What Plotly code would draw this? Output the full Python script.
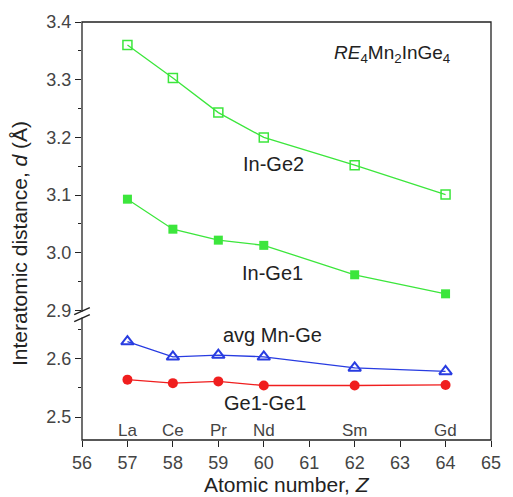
import plotly.graph_objects as go

z = [57, 58, 59, 60, 62, 64]
elements = ["La", "Ce", "Pr", "Nd", "Sm", "Gd"]
in_ge2 = [3.360, 3.303, 3.243, 3.200, 3.152, 3.101]
in_ge1 = [3.093, 3.041, 3.022, 3.013, 2.962, 2.929]
avg_mn_ge = [2.629, 2.603, 2.606, 2.603, 2.584, 2.578]
ge1_ge1 = [2.564, 2.558, 2.561, 2.554, 2.554, 2.555]

green = "rgb(60,230,60)"
blue = "rgb(40,60,225)"
red = "rgb(240,30,30)"
font = "Liberation Sans, Arial, sans-serif"

fig = go.Figure()
fig.add_trace(go.Scatter(x=z, y=in_ge2, yaxis="y2", mode="lines+markers",
                         line=dict(color=green, width=1.3),
                         marker=dict(symbol="square-open", size=9, color=green, line=dict(width=1.5)),
                         cliponaxis=False))
fig.add_trace(go.Scatter(x=z, y=in_ge1, yaxis="y2", mode="lines+markers",
                         line=dict(color=green, width=1.3),
                         marker=dict(symbol="square", size=9, color=green),
                         cliponaxis=False))
fig.add_trace(go.Scatter(x=z, y=avg_mn_ge, yaxis="y", mode="lines+markers",
                         line=dict(color=blue, width=1.3),
                         marker=dict(symbol="triangle-up-open", size=11, color=blue, line=dict(width=2)),
                         cliponaxis=False))
fig.add_trace(go.Scatter(x=z, y=ge1_ge1, yaxis="y", mode="lines+markers",
                         line=dict(color=red, width=1.3),
                         marker=dict(symbol="circle", size=10, color=red),
                         cliponaxis=False))

tickfont = dict(family=font, size=18, color="#444")
low_frac = 0.30

annotations = []
for zz, el in zip(z, elements):
    annotations.append(dict(x=zz, y=0.022, xref="x", yref="paper", text=el, showarrow=False,
                            font=dict(family=font, size=17, color="#444"),
                            xanchor="center", yanchor="middle"))
labels = [
    (278, 163, "In-Ge2"),
    (277, 273, "In-Ge1"),
    (277, 335, "avg Mn-Ge"),
    (269, 403, "Ge1-Ge1"),
]
for px_, py_, t in labels:
    annotations.append(dict(x=(px_ - 82) / 419, y=(440 - py_) / 419, xref="paper", yref="paper",
                            text=t, showarrow=False, xanchor="center", yanchor="middle",
                            font=dict(family=font, size=20, color="#222")))
annotations.append(dict(x=(400 - 82) / 419, y=(440 - 53) / 419, xref="paper", yref="paper",
                        text="<i>RE</i><sub>4</sub>Mn<sub>2</sub>InGe<sub>4</sub>", showarrow=False,
                        xanchor="center", yanchor="middle",
                        font=dict(family=font, size=19, color="#222")))
annotations.append(dict(x=0.5, y=(440 - 485) / 419, xref="paper", yref="paper",
                        text="Atomic number, <i>Z</i>", showarrow=False,
                        xanchor="center", yanchor="middle",
                        font=dict(family=font, size=21, color="#222")))
annotations.append(dict(x=(18 - 82) / 419, y=(440 - 243) / 419, xref="paper", yref="paper",
                        text="Interatomic distance, <i>d</i> (Å)", showarrow=False, textangle=-90,
                        xanchor="center", yanchor="middle",
                        font=dict(family=font, size=21, color="#222")))

by = low_frac
px = 1 / 419
shapes = [
    dict(type="rect", xref="paper", yref="paper", x0=0, y0=0, x1=1, y1=1,
         line=dict(color="#222", width=1.3)),
    dict(type="line", xref="paper", yref="paper", x0=0, x1=0, y0=by - 3 * px, y1=by + 3 * px,
         line=dict(color="white", width=3)),
    dict(type="line", xref="paper", yref="paper", x0=-8 * px, x1=8 * px, y0=by - 7 * px, y1=by + 0 * px,
         line=dict(color="#222", width=1.5)),
    dict(type="line", xref="paper", yref="paper", x0=-8 * px, x1=8 * px, y0=by + 0 * px, y1=by + 7 * px,
         line=dict(color="#222", width=1.5)),
]

fig.update_layout(
    width=513, height=497,
    margin=dict(l=82, r=12, t=21, b=57),
    paper_bgcolor="white", plot_bgcolor="white",
    showlegend=False,
    font=dict(family=font),
    xaxis=dict(range=[56, 65], tickvals=list(range(56, 66)), ticks="outside", ticklen=6,
               tickcolor="#222", showgrid=False, zeroline=False, showline=False,
               tickfont=tickfont, anchor="y"),
    yaxis=dict(domain=[0, low_frac], range=[2.461, 2.675], tickvals=[2.5, 2.6], ticktext=["2.5", "2.6"],
               ticks="outside", ticklen=6, tickcolor="#222", showgrid=False, zeroline=False,
               showline=False, tickfont=tickfont,
               minor=dict(tickvals=[2.55, 2.65], ticks="outside", ticklen=3, tickcolor="#222")),
    yaxis2=dict(domain=[low_frac, 1], range=[2.893, 3.4], tickvals=[2.9, 3.0, 3.1, 3.2, 3.3, 3.4],
                ticktext=["2.9", "3.0", "3.1", "3.2", "3.3", "3.4"],
                ticks="outside", ticklen=6, tickcolor="#222", showgrid=False, zeroline=False,
                showline=False, tickfont=tickfont, anchor="x",
                minor=dict(tickvals=[2.95, 3.05, 3.15, 3.25, 3.35], ticks="outside", ticklen=3,
                           tickcolor="#222")),
    annotations=annotations,
    shapes=shapes,
)

fig.write_html("out.html")
